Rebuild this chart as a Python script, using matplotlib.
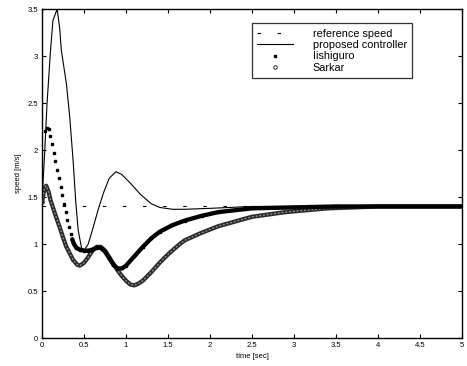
import matplotlib
matplotlib.use("Agg")
import matplotlib.pyplot as plt
import numpy as np

plt.rcParams['font.family'] = ['Liberation Sans', 'DejaVu Sans']

# reference speed
ref_t = [0.0, 5.0]
ref_v = [1.4, 1.4]

# proposed controller
prop_t = [0.0, 0.03, 0.06, 0.1, 0.13, 0.18, 0.21, 0.23, 0.29, 0.33, 0.37, 0.4,
          0.43, 0.47, 0.5, 0.55, 0.61, 0.67, 0.73, 0.8, 0.88, 0.95, 1.05, 1.17,
          1.3, 1.4, 1.55, 1.7, 2.0, 2.5, 3.0, 5.0]
prop_v = [1.45, 1.95, 2.5, 3.05, 3.38, 3.5, 3.3, 3.06, 2.71, 2.35, 1.89, 1.47,
          1.15, 0.96, 0.93, 1.0, 1.18, 1.37, 1.54, 1.7, 1.77, 1.74, 1.65, 1.53,
          1.43, 1.39, 1.37, 1.37, 1.38, 1.4, 1.4, 1.4]

# Iishiguro
ish_t = [0.04, 0.06, 0.08, 0.1, 0.12, 0.14, 0.16, 0.18, 0.2, 0.22, 0.24, 0.26,
         0.28, 0.3, 0.32, 0.34, 0.36, 0.38, 0.41, 0.45, 0.5, 0.55, 0.6, 0.65,
         0.7, 0.75, 0.8, 0.85, 0.9, 0.95, 1.0, 1.1, 1.2, 1.3, 1.4, 1.55, 1.7,
         1.9, 2.1, 2.5, 3.0, 3.5, 5.0]
ish_v = [2.2, 2.23, 2.22, 2.15, 2.06, 1.97, 1.88, 1.79, 1.70, 1.61, 1.52, 1.43,
         1.34, 1.26, 1.18, 1.11, 1.05, 1.0, 0.96, 0.94, 0.93, 0.93, 0.94, 0.96,
         0.96, 0.92, 0.85, 0.78, 0.74, 0.74, 0.77, 0.87, 0.97, 1.06, 1.13, 1.2,
         1.25, 1.3, 1.34, 1.38, 1.39, 1.4, 1.4]

# Sarkar
sar_t = [0.0, 0.03, 0.05, 0.08, 0.1, 0.13, 0.17, 0.21, 0.25, 0.29, 0.33, 0.37,
         0.42, 0.45, 0.5, 0.55, 0.6, 0.65, 0.7, 0.75, 0.8, 0.85, 0.9, 0.95,
         1.0, 1.05, 1.1, 1.15, 1.2, 1.3, 1.4, 1.5, 1.64, 1.7, 1.9, 2.1, 2.3,
         2.5, 2.9, 3.4, 4.0, 5.0]
sar_v = [1.45, 1.6, 1.62, 1.55, 1.47, 1.39, 1.28, 1.18, 1.07, 0.97, 0.9, 0.83,
         0.78, 0.77, 0.8, 0.86, 0.93, 0.97, 0.97, 0.93, 0.86, 0.79, 0.72, 0.66,
         0.61, 0.57, 0.56, 0.58, 0.61, 0.70, 0.8, 0.89, 1.0, 1.04, 1.12, 1.19,
         1.24, 1.29, 1.34, 1.38, 1.4, 1.4]

x_ticks = [0, 0.5, 1, 1.5, 2, 2.5, 3, 3.5, 4, 4.5, 5]
y_ticks = [0, 0.5, 1, 1.5, 2, 2.5, 3, 3.5]

fig = plt.figure(figsize=(4.67, 3.66), dpi=100)
ax = fig.add_axes([0.09, 0.0765, 0.899, 0.8985])

# reference speed
ax.plot(ref_t, ref_v, color='black', lw=0.8, dashes=(3.1, 15),
        label='reference speed', zorder=2)

# Sarkar band
ax.plot(sar_t, sar_v, color='#2a2a2a', lw=3.1, solid_capstyle='round',
        zorder=3)
ax.plot(sar_t, sar_v, color='#9a9a9a', lw=0.9, ls=(0, (1.5, 1.5)), zorder=3.1)

# Iishiguro band (after fast descent), dots everywhere
ish_arr_t = np.array(ish_t)
ish_arr_v = np.array(ish_v)
band = ish_arr_t >= 0.36
ax.plot(ish_arr_t[band], ish_arr_v[band], color='black', lw=3.1,
        solid_capstyle='round', zorder=4)

# proposed controller
ax.plot(prop_t, prop_v, color='black', lw=0.8, label='proposed controller',
        zorder=5)

ax.plot(ish_t, ish_v, ls='none', marker='s', ms=1.6, color='black',
        label='Iishiguro', zorder=4)
ax.plot(sar_t[:1], sar_v[:1], ls='none', marker='o', ms=2.5, mfc='none',
        mec='black', mew=0.6, label='Sarkar', zorder=3)

ax.set_xlim(0, 5)
ax.set_ylim(0, 3.5)
ax.set_xticks(x_ticks)
ax.set_yticks(y_ticks)
ax.set_xticklabels([('%g' % v) for v in x_ticks])
ax.set_yticklabels([('%g' % v) for v in y_ticks])
ax.tick_params(direction='in', top=True, right=True, length=3, width=0.8,
               labelsize=5.5, pad=3)
for s in ax.spines.values():
    s.set_linewidth(1.0)

ax.set_xlabel('time [sec]', fontsize=5.5, labelpad=3)
ax.set_ylabel('speed [m/s]', fontsize=5.5, labelpad=4)

leg = ax.legend(loc='upper left', bbox_to_anchor=(0.5, 0.957), fontsize=7.8,
                frameon=True, fancybox=False, edgecolor='black',
                handlelength=3.3, handletextpad=1.8, labelspacing=0.12,
                borderpad=0.5, borderaxespad=0, markerscale=1.0)
leg.get_frame().set_linewidth(0.9)

fig.savefig('out.png', dpi=100)
